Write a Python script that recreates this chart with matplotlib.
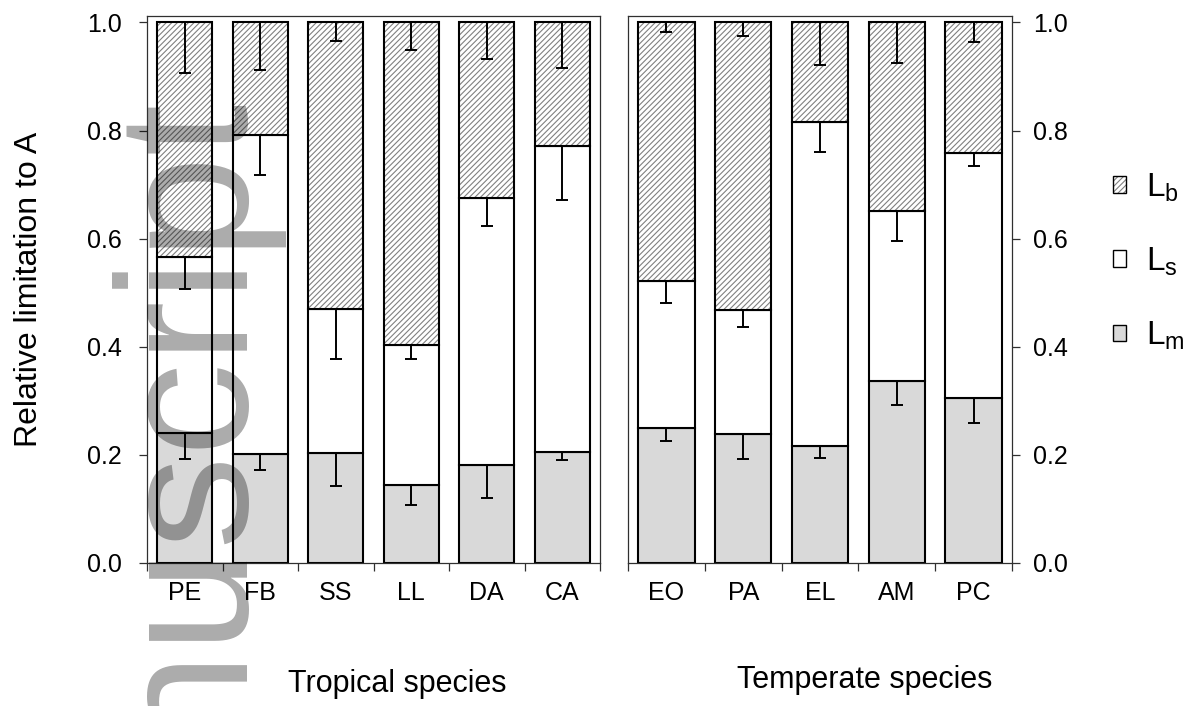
import numpy as np
import matplotlib.pyplot as plt
from matplotlib.patches import Patch

plt.rcParams['font.family'] = ['Liberation Sans', 'DejaVu Sans']
plt.rcParams['hatch.linewidth'] = 0.8

# Relative limitations (stomatal Ls, mesophyll Lm, biochemical Lb) and lower SE
trop_species = ['PE', 'FB', 'SS', 'LL', 'DA', 'CA']
trop_lm = [0.240, 0.202, 0.203, 0.144, 0.182, 0.206]
trop_ls = [0.326, 0.590, 0.266, 0.260, 0.494, 0.566]
trop_lb = [0.434, 0.208, 0.531, 0.596, 0.324, 0.228]
trop_lm_err = [0.048, 0.030, 0.060, 0.036, 0.061, 0.016]
trop_ls_err = [0.060, 0.075, 0.091, 0.026, 0.053, 0.100]
trop_lb_err = [0.093, 0.088, 0.034, 0.051, 0.067, 0.084]

temp_species = ['EO', 'PA', 'EL', 'AM', 'PC']
temp_lm = [0.250, 0.239, 0.217, 0.336, 0.306]
temp_ls = [0.271, 0.229, 0.599, 0.315, 0.453]
temp_lb = [0.479, 0.532, 0.184, 0.349, 0.241]
temp_lm_err = [0.024, 0.047, 0.023, 0.043, 0.047]
temp_ls_err = [0.040, 0.032, 0.056, 0.055, 0.024]
temp_lb_err = [0.017, 0.026, 0.079, 0.075, 0.036]

LM_COLOR = '#d9d9d9'
HATCH_COLOR = '#808080'
SPINE_COLOR = '#303030'
BAR_W = 0.735
W, H = 1198, 706


def draw_panel(ax, names, lm, ls, lb, lm_err, ls_err, lb_err):
    x = np.arange(len(names))
    lm, ls, lb = np.array(lm), np.array(ls), np.array(lb)
    zeros = np.zeros(len(names))

    ax.bar(x, lm, BAR_W, color=LM_COLOR, edgecolor='black', lw=1.5, zorder=2)
    ax.bar(x, ls, BAR_W, bottom=lm, color='white', edgecolor='black', lw=1.5, zorder=2)
    # hatch first (grey lines), then a plain black outline on top
    ax.bar(x, lb, BAR_W, bottom=lm + ls, color='white', edgecolor=HATCH_COLOR,
           hatch='//////', lw=0, zorder=2)
    ax.bar(x, lb, BAR_W, bottom=lm + ls, fill=False, edgecolor='black', lw=1.5, zorder=3)

    # one-sided (downward) error bars from the top of each segment
    for top, err in [(lm, lm_err), (lm + ls, ls_err), (lm + ls + lb, lb_err)]:
        ax.errorbar(x, top, yerr=[err, zeros], fmt='none', ecolor='black',
                    elinewidth=1.4, capsize=4.5, capthick=1.4, zorder=4)

    ax.set_xlim(-0.5, len(names) - 0.5)
    ax.set_ylim(0, 1.0118)
    ax.set_xticks(np.arange(-0.5, len(names)), labels=[''] * (len(names) + 1))
    ax.set_xticks(x, labels=names, minor=True)
    ax.tick_params(axis='x', which='major', direction='out', length=6, width=0.9,
                   color=SPINE_COLOR)
    ax.tick_params(axis='x', which='minor', length=0, pad=13, labelsize=18)
    ax.set_yticks(np.arange(0, 1.01, 0.2), labels=['%.1f' % v for v in np.arange(0, 1.01, 0.2)])
    for sp in ax.spines.values():
        sp.set_linewidth(0.9)
        sp.set_color(SPINE_COLOR)


fig = plt.figure(figsize=(W / 100, H / 100), dpi=100)
ax1 = fig.add_axes([147 / W, (H - 563) / H, 453 / W, 547 / H])
ax2 = fig.add_axes([628 / W, (H - 563) / H, 384 / W, 547 / H])

draw_panel(ax1, trop_species, trop_lm, trop_ls, trop_lb, trop_lm_err, trop_ls_err, trop_lb_err)
draw_panel(ax2, temp_species, temp_lm, temp_ls, temp_lb, temp_lm_err, temp_ls_err, temp_lb_err)

ax1.yaxis.set_ticks_position('left')
ax1.tick_params(axis='y', direction='out', length=6, width=0.9, pad=12, labelsize=18,
                color=SPINE_COLOR)
ax1.set_ylabel('Relative limitation to A', fontsize=23)
ax1.yaxis.set_label_coords(-0.228, 0.5)

ax2.yaxis.tick_right()
ax2.tick_params(axis='y', direction='out', length=6, width=0.9, pad=9, labelsize=18,
                color=SPINE_COLOR)

fig.text(397 / W, 1 - 684 / H, 'Tropical species', ha='center', va='center', fontsize=22)
fig.text(865 / W, 1 - 680 / H, 'Temperate species', ha='center', va='center', fontsize=22)

handles = [
    (Patch(facecolor='white', edgecolor=HATCH_COLOR, hatch='//////', lw=0),
     Patch(fill=False, edgecolor='black', lw=1)),
    Patch(facecolor='white', edgecolor='black', lw=1),
    Patch(facecolor=LM_COLOR, edgecolor='black', lw=1),
]
labels = [r'$\mathregular{L_b}$', r'$\mathregular{L_s}$', r'$\mathregular{L_m}$']
fig.legend(handles, labels, loc='center left', bbox_to_anchor=(1113 / W, 1 - 262 / H),
           frameon=False, fontsize=24, handlelength=0.4, handleheight=0.4,
           handletextpad=0.6, labelspacing=1.25, borderpad=0, borderaxespad=0)

# translucent watermark across the left panel
fig.text(236 / W, 1 - 91 / H, 'manuscript', rotation=90, rotation_mode='anchor',
         ha='right', va='baseline', fontsize=134, color='black', alpha=0.33, zorder=10)

fig.savefig('out.png', dpi=100)
